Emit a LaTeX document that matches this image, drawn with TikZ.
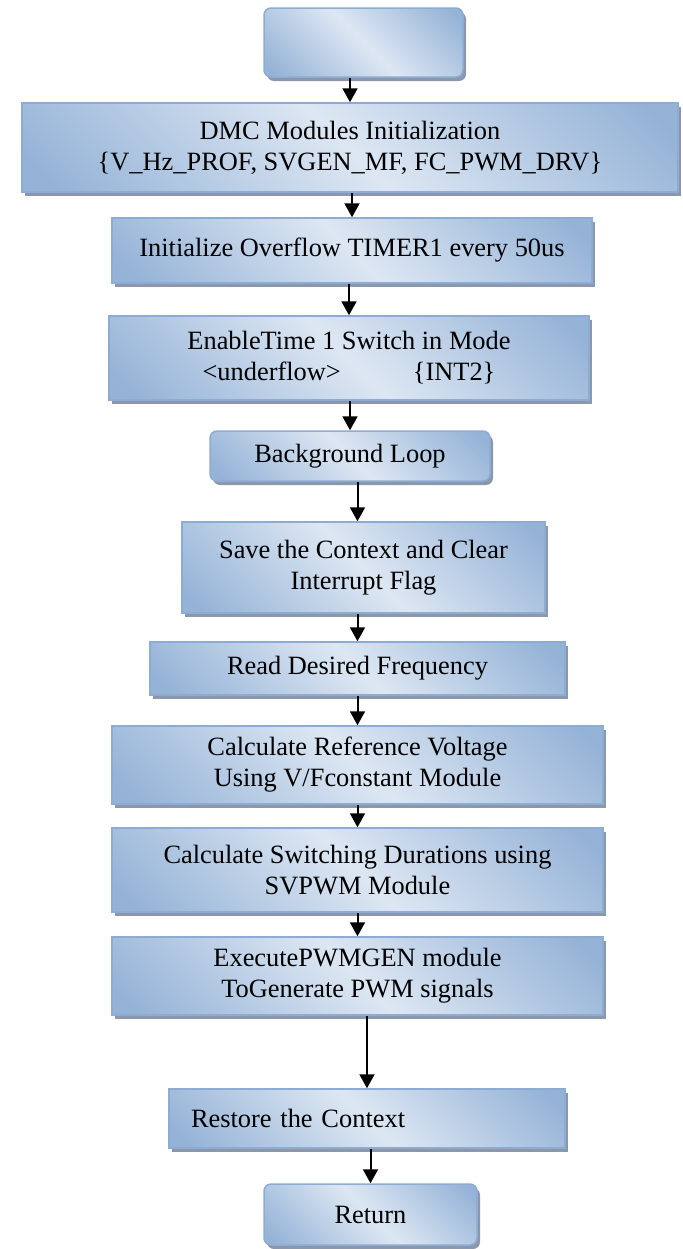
\documentclass[tikz,border=0pt]{standalone}
\usepackage{fontspec}
\setmainfont{Liberation Serif}
\usetikzlibrary{positioning}
\usetikzlibrary{shadows}
\usetikzlibrary{arrows.meta}

\definecolor{boxdark}{RGB}{149,179,215}
\definecolor{boxlight}{RGB}{221,231,243}
\definecolor{boxline}{RGB}{141,172,212}
\definecolor{boxshadow}{RGB}{140,152,170}
\pgfdeclarehorizontalshading{boxshade}{100bp}{color(0bp)=(boxdark); color(18bp)=(boxdark); color(50bp)=(boxlight); color(82bp)=(boxdark); color(100bp)=(boxdark)}

\tikzset{
  procbox/.style={draw=boxline, line width=0.75pt, shading=boxshade, shading angle=45,
    inner sep=2pt, align=center, font=\fontsize{13.2}{15.5}\selectfont,
    drop shadow={shadow xshift=1.5pt, shadow yshift=-2pt, fill=boxshadow, opacity=1}},
  termbox/.style={procbox, rounded corners=3.5pt},
  arr/.style={-{Triangle[length=7pt,width=7.5pt]}, line width=1pt}
}

\begin{document}
\begin{tikzpicture}[x=0.5pt, y=-0.5pt]
  \useasboundingbox (0,0) rectangle (682,1249);
  % main flow, top to bottom
  \node[termbox, minimum width=99.5pt, minimum height=34.5pt]  (start)   at (363.5,42.5)  {};
  \node[procbox, minimum width=328pt, minimum height=44.5pt]   (dmc)     at (350,147.5)   {DMC Modules Initialization\\\{V\_Hz\_PROF, SVGEN\_MF, FC\_PWM\_DRV\}};
  \node[procbox, minimum width=240pt, minimum height=32.5pt]   (init)    at (352,250.5)   {Initialize Overflow TIMER1 every 50us};
  \node[procbox, minimum width=240pt, minimum height=42pt]     (enable)  at (349,358)     {EnableTime 1 Switch in Mode\\\textless underflow\textgreater\hspace{36pt}\{INT2\}};
  \node[termbox, minimum width=140pt, minimum height=25pt]     (loop)    at (350,456)     {Background Loop};
  \node[procbox, minimum width=181.5pt, minimum height=45.5pt] (save)    at (363.5,567.5) {Save the Context and Clear\\Interrupt Flag};
  \node[procbox, minimum width=207.5pt, minimum height=26.5pt] (read)    at (357.5,668.5) {Read Desired Frequency};
  \node[procbox, minimum width=245.5pt, minimum height=39pt]   (calcref) at (357.5,765)   {Calculate Reference Voltage\\Using V/Fconstant Module};
  \node[procbox, minimum width=245.5pt, minimum height=42pt]   (calcsw)  at (357.5,870)   {Calculate Switching Durations using\\SVPWM Module};
  \node[procbox, minimum width=245.5pt, minimum height=39pt]   (exec)    at (357.5,976)   {ExecutePWMGEN module\\ToGenerate PWM signals};
  \node[procbox, text width=176pt, align=left, inner xsep=11pt, minimum height=29.5pt] (restore) at (367,1118.5) {Restore the Context};
  \node[termbox, minimum width=106.5pt, minimum height=30.5pt] (return)  at (370.5,1214.5) {Return};

  \draw[arr] (start.south -| dmc.north)     -- (dmc.north);
  \draw[arr] (dmc.south -| init.north)      -- (init.north);
  \draw[arr] (init.south -| enable.north)   -- (enable.north);
  \draw[arr] (enable.south -| loop.north)   -- (loop.north);
  \draw[arr] (loop.south -| read.north)     -- (read.north |- save.north);
  \draw[arr] (save.south -| read.north)     -- (read.north);
  \draw[arr] (read.south -| calcref.north)  -- (calcref.north);
  \draw[arr] (calcref.south -| calcsw.north) -- (calcsw.north);
  \draw[arr] (calcsw.south -| exec.north)   -- (exec.north);
  \draw[arr] (exec.south -| restore.north)  -- (restore.north);
  \draw[arr] (restore.south -| return.north) -- (return.north);
\end{tikzpicture}
\end{document}
